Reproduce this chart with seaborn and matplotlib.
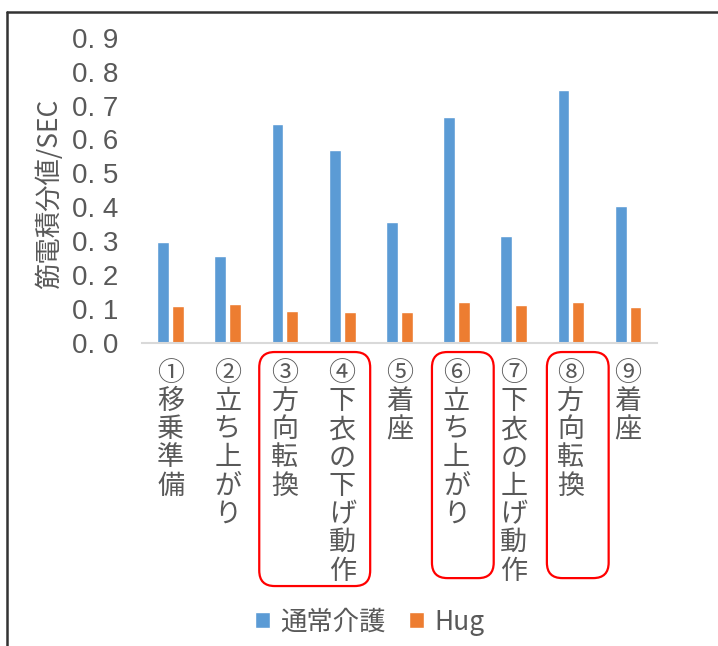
import matplotlib
matplotlib.use("Agg")
import matplotlib.pyplot as plt
import seaborn as sns
import pandas as pd
from matplotlib.patches import FancyBboxPatch
from matplotlib.lines import Line2D

# データ
categories = ["①移乗準備", "②立ち上がり", "③方向転換", "④下衣の下げ動作", "⑤着座",
              "⑥立ち上がり", "⑦下衣の上げ動作", "⑧方向転換", "⑨着座"]
normal_care = [0.298, 0.257, 0.645, 0.568, 0.356, 0.665, 0.315, 0.745, 0.403]
hug = [0.110, 0.115, 0.095, 0.090, 0.092, 0.120, 0.113, 0.122, 0.106]
series_names = ["通常介護", "Hug"]
y_ticks = [0.0, 0.1, 0.2, 0.3, 0.4, 0.5, 0.6, 0.7, 0.8, 0.9]

df = pd.DataFrame({
    "cat": categories * 2,
    "value": normal_care + hug,
    "series": [series_names[0]] * len(categories) + [series_names[1]] * len(categories),
})

sns.set_style("white")
plt.rcParams['font.family'] = ['Noto Sans CJK JP', 'DejaVu Sans']

grey = '#595959'
fig = plt.figure(figsize=(7.18, 6.46), dpi=100)
ax = fig.add_axes([0.1978, 0.469, 0.7168, 0.4726])

sns.barplot(data=df, x="cat", y="value", hue="series", order=categories,
            palette={"通常介護": "#5b9bd5", "Hug": "#ed7d31"}, saturation=1,
            width=0.52, gap=0.2, ax=ax, legend=True)

ax.set_xlim(-0.5, len(categories) - 0.5)
ax.set_ylim(0, 0.9)
ax.set_yticks(y_ticks)
ax.set_yticklabels([f"{v:.1f}".replace(".", ". ") for v in y_ticks],
                   family='Liberation Sans', fontsize=20, color=grey)
ax.set_xticks(range(len(categories)))
ax.set_xticklabels(["\n".join(c) for c in categories], fontsize=19.5, color=grey,
                   va='top', linespacing=1.06)
ax.tick_params(axis='y', length=0, pad=17)
ax.tick_params(axis='x', length=0, pad=12)
for s in ['left', 'right', 'top']:
    ax.spines[s].set_visible(False)
ax.spines['bottom'].set_color('#d9d9d9')
ax.spines['bottom'].set_linewidth(1.5)
ax.set_xlabel("")
ax.set_ylabel("筋電積分値/SEC", fontsize=19, color=grey)
ax.yaxis.set_label_coords(-0.153, 0.49)

# 赤枠
trans = ax.get_xaxis_transform()
boxes = [(1.55, 3.49, -0.0295, -0.796), (4.57, 5.65, -0.0295, -0.770), (6.58, 7.66, -0.0295, -0.770)]
for x0, x1, y0, y1 in boxes:
    p = FancyBboxPatch((x0, y1), x1 - x0, y0 - y1, transform=trans,
                       boxstyle="round,pad=0,rounding_size=0.27",
                       mutation_aspect=57.2 / 305.3,
                       fill=False, edgecolor='#ff0000', linewidth=1.6, clip_on=False)
    ax.add_patch(p)

# 凡例
handles, labels = ax.get_legend_handles_labels()
ax.get_legend().remove()
fig.legend(handles, labels, loc='center', bbox_to_anchor=(0.515, 0.037), ncol=2,
           frameon=False, fontsize=19, labelcolor=grey, handlelength=0.55,
           handleheight=0.55, handletextpad=0.4, columnspacing=0.9)

# 外枠
fig.add_artist(Line2D([6.5 / 718, 6.5 / 718], [0, 1 - 12 / 646], color='#333333', lw=1.8))
fig.add_artist(Line2D([6.5 / 718, 1], [1 - 12 / 646, 1 - 12 / 646], color='#333333', lw=1.8))

fig.savefig("out.png", dpi=100)
